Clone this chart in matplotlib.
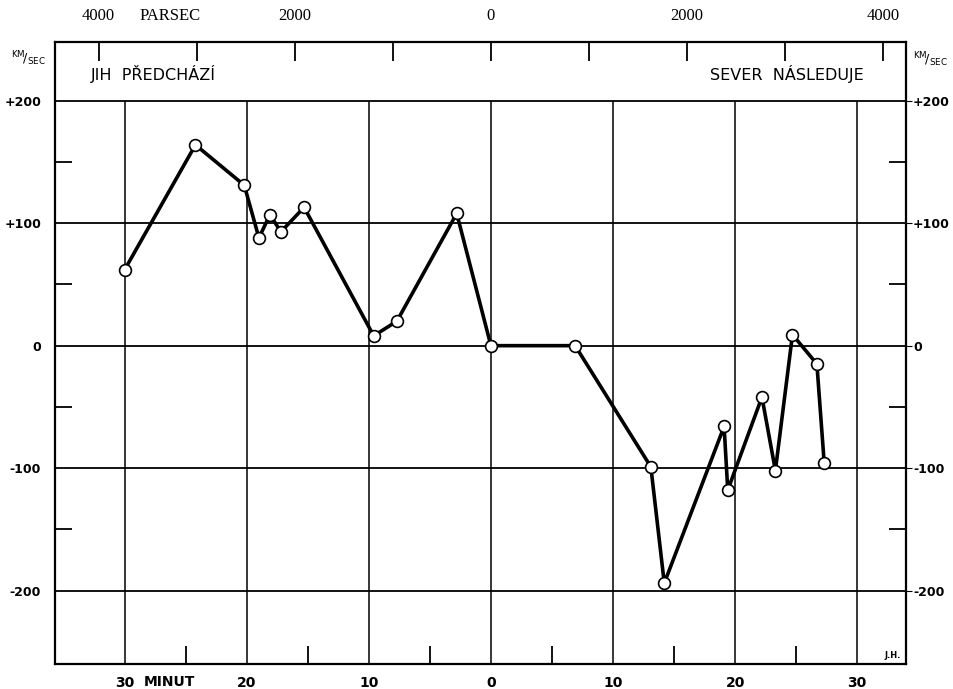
import numpy as np
import matplotlib.pyplot as plt

# radial velocity vs. position along slit (minutes of arc)
minutes = [-30.0, -24.2, -20.2, -19.0, -18.1, -17.2, -15.3, -9.6, -7.7, -2.8, 0.0, 6.9,
           13.1, 14.2, 19.1, 19.4, 22.2, 23.3, 24.7, 26.7, 27.3]
velocity = [62, 164, 131, 88, 107, 93, 113, 8, 20, 108, 0, 0,
            -99, -194, -66, -118, -42, -102, 9, -15, -96]

x_grid = [-30, -20, -10, 0, 10, 20, 30]
x_grid_labels = ["30", "20", "10", "0", "10", "20", "30"]
x_minor = [-25, -15, -5, 5, 15, 25]
y_grid = [-200, -100, 0, 100, 200]
y_left_labels = ["-200", "-100", "0", "+100", "+200"]
y_right_labels = ["-200", "-100", "0", "+100", "+200"]
y_minor = [-150, -50, 50, 150]
pc_ticks = [-4000, -3000, -2000, -1000, 0, 1000, 2000, 3000, 4000]
pc_labels = ["4000", "", "2000", "", "0", "", "2000", "", "4000"]
pc_per_min = 124.5

fig = plt.figure(figsize=(9.54, 6.89), dpi=100)
ax = fig.add_axes([0.0577, 0.0363, 0.8920, 0.9027])
ax.set_xlim(-35.7, 34.0)
ax.set_ylim(-260, 248)

# grid: vertical lines stop at +200, header strip above is empty
ax.vlines(x_grid, -260, 200, color="black", lw=1.1, zorder=1)
ax.hlines(y_grid, -35.7, 34.0, color="black", lw=1.3, zorder=1)

ax.plot(minutes, velocity, color="black", lw=2.6, zorder=2)
ax.plot(minutes, velocity, "o", ms=8.5, mfc="white", mec="black", mew=1.2, zorder=3)

for s in ax.spines.values():
    s.set_linewidth(1.6)

hand = "DejaVu Sans"
ax.set_xticks(x_grid, x_grid_labels, fontsize=10, fontweight="bold", family=hand)
ax.set_xticks(x_minor, minor=True)
ax.tick_params(axis="x", which="major", length=0, pad=9)
ax.tick_params(axis="x", which="minor", direction="in", length=13, width=1.3)

ax.set_yticks(y_grid, y_left_labels, fontsize=9, fontweight="bold", family=hand)
ax.set_yticks(y_minor, minor=True)

ay = ax.twinx()
ay.set_ylim(ax.get_ylim())
ay.set_yticks(y_grid, y_right_labels, fontsize=9, fontweight="bold", family=hand)
ay.tick_params(axis="y", length=4, direction="out", pad=1)
for s in ay.spines.values():
    s.set_visible(False)

ax.tick_params(axis="y", which="major", length=0, pad=10)
ax.tick_params(axis="y", which="minor", direction="in", length=12, width=1.3, left=True, right=True)

top = ax.secondary_xaxis("top", functions=(lambda m: m * pc_per_min, lambda p: p / pc_per_min))
top.set_xticks(pc_ticks, pc_labels, fontsize=12, family="Liberation Serif")
top.tick_params(direction="in", length=14, width=1.3, pad=13)
top.spines["top"].set_visible(False)

ax.text(-26.3, -0.029, "MINUT", transform=ax.get_xaxis_transform(), ha="center", va="center",
        fontsize=10, fontweight="bold", family=hand)
fig.text(0.178, 0.977, "PARSEC", ha="center", va="center", fontsize=12, family="Liberation Serif")

ax.text(-32.8, 222, "JIH  PŘEDCHÁZÍ", ha="left", va="center", fontsize=11.5, family=hand)
ax.text(30.5, 222, "SEVER  NÁSLEDUJE", ha="right", va="center", fontsize=11.5, family=hand)
ax.text(33.6, -253, "J.H.", ha="right", va="center", fontsize=6, fontweight="bold", family=hand)

fig.text(0.030, 0.915, r"$^{\mathrm{KM}}\!/_{\mathrm{SEC}}$", ha="center", va="center", fontsize=9)
fig.text(0.975, 0.913, r"$^{\mathrm{KM}}\!/_{\mathrm{SEC}}$", ha="center", va="center", fontsize=9)

fig.savefig("out.png", dpi=100)
